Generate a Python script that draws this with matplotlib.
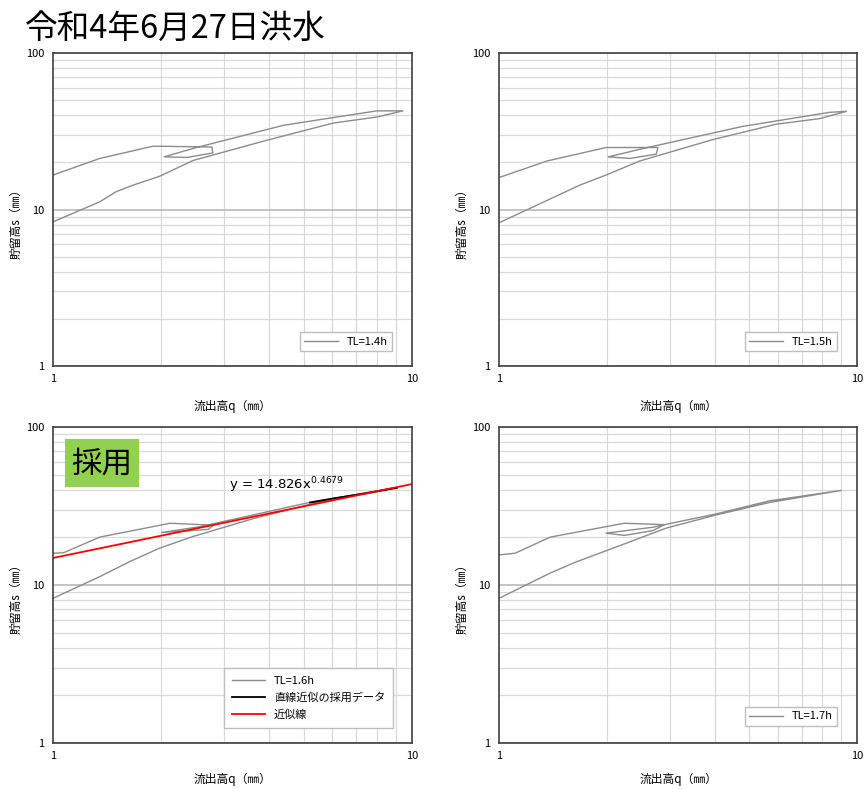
import numpy as np
import matplotlib
matplotlib.use("Agg")
import matplotlib.pyplot as plt
from matplotlib.patches import Rectangle
from matplotlib.ticker import LogLocator, FixedLocator, NullFormatter, FixedFormatter

plt.rcParams['font.family'] = ['Noto Sans CJK JP', 'DejaVu Sans']

# 流出高q と 貯留高s (ループ), TL ごと
q_14 = [1.00, 1.35, 1.90, 2.77, 2.79, 2.36, 2.04, 2.51, 4.38, 6.04, 7.99, 9.44,
        7.99, 6.04, 3.94, 2.46, 1.98, 1.67, 1.50, 1.35, 1.00]
s_14 = [16.6, 21.2, 25.4, 25.1, 23.0, 21.5, 21.7, 24.9, 34.5, 38.7, 42.7, 42.7,
        39.0, 35.7, 27.7, 20.6, 16.3, 14.3, 13.0, 11.2, 8.34]

q_15 = [1.00, 1.36, 1.99, 2.78, 2.75, 2.32, 2.02, 2.52, 4.80, 5.95, 8.39, 9.34,
        7.87, 5.95, 3.96, 2.47, 1.99, 1.68, 1.00]
s_15 = [16.0, 20.4, 24.9, 24.9, 22.6, 21.2, 21.7, 24.5, 34.0, 36.8, 41.8, 42.4,
        38.1, 35.1, 28.0, 20.4, 16.6, 14.3, 8.22]

q_16 = [1.00, 1.07, 1.35, 2.12, 2.80, 2.71, 2.36, 2.01, 2.57, 5.09, 9.08,
        6.04, 3.61, 2.46, 1.98, 1.64, 1.35, 1.00]
s_16 = [15.9, 16.0, 20.1, 24.6, 23.9, 22.5, 22.0, 21.5, 23.4, 33.0, 41.4,
        35.3, 26.3, 20.3, 17.1, 14.1, 11.3, 8.23]

q_17 = [1.00, 1.11, 1.39, 2.24, 2.90, 2.69, 1.99, 2.24, 2.69, 2.90, 4.05, 5.70, 9.04,
        5.70, 4.05, 2.93, 2.24, 1.63, 1.39, 1.00]
s_17 = [15.5, 15.9, 20.1, 24.6, 24.1, 23.2, 21.3, 20.6, 22.1, 24.1, 28.2, 34.1, 39.7,
        33.3, 27.8, 22.9, 18.2, 13.9, 11.9, 8.23]

# 直線近似の採用データ (TL=1.6h)
q_adopt = [5.20, 6.04, 7.49, 9.08]
s_adopt = [33.3, 35.3, 38.1, 41.2]

# 近似線 y = a x^b
fit_a = 14.826
fit_b = 0.4679
fit_q = np.array([1.0, 10.0])

gray = '#8c8c8c'


def setup(ax, xpad):
    ax.set_xscale('log')
    ax.set_yscale('log')
    ax.set_xlim(1, 10)
    ax.set_ylim(1, 100)
    ax.xaxis.set_major_locator(FixedLocator([1, 10]))
    ax.xaxis.set_major_formatter(FixedFormatter(['1', '10']))
    ax.yaxis.set_major_locator(FixedLocator([1, 10, 100]))
    ax.yaxis.set_major_formatter(FixedFormatter(['1', '10', '100']))
    ax.xaxis.set_minor_locator(LogLocator(base=10, subs=np.arange(2, 10)))
    ax.yaxis.set_minor_locator(LogLocator(base=10, subs=np.arange(2, 10)))
    ax.xaxis.set_minor_formatter(NullFormatter())
    ax.yaxis.set_minor_formatter(NullFormatter())
    ax.grid(which='minor', color='#d9d9d9', linewidth=0.9)
    ax.grid(which='major', axis='y', color='#bfbfbf', linewidth=1.3)
    ax.tick_params(which='both', length=0, labelsize=8, pad=6)
    for sp in ax.spines.values():
        sp.set_color('#404040')
        sp.set_linewidth(1.2)
    ax.set_axisbelow(True)
    ax.set_xlabel('流出高q（㎜）', fontsize=8.5, labelpad=xpad)
    ax.set_ylabel('貯留高s（㎜）', fontsize=8.5)
    ax.yaxis.set_label_coords(-0.086, 0.465)


fig = plt.figure(figsize=(8.64, 7.89), dpi=100)
ax1 = fig.add_axes([0.0613, 0.5361, 0.4155, 0.3967])
ax2 = fig.add_axes([0.5775, 0.5361, 0.4144, 0.3967])
ax3 = fig.add_axes([0.0613, 0.0583, 0.4155, 0.4005])
ax4 = fig.add_axes([0.5775, 0.0583, 0.4144, 0.4005])

setup(ax1, 11)
setup(ax2, 11)
setup(ax3, 8)
setup(ax4, 8)

leg_kw = dict(loc='lower right', fontsize=8, frameon=True, fancybox=False,
              edgecolor='#bfbfbf', framealpha=1, handlelength=3, borderaxespad=0)

ax1.plot(q_14, s_14, color=gray, lw=1, label='TL=1.4h')
ax1.legend(bbox_to_anchor=(0.944, 0.048), **leg_kw)

ax2.plot(q_15, s_15, color=gray, lw=1, label='TL=1.5h')
ax2.legend(bbox_to_anchor=(0.944, 0.048), **leg_kw)

ax3.plot(q_16, s_16, color=gray, lw=1, label='TL=1.6h')
ax3.plot(q_adopt, s_adopt, color='black', lw=1.3, label='直線近似の採用データ')
ax3.plot(fit_q, fit_a * fit_q ** fit_b, color='red', lw=1.3, label='近似線')
ax3.legend(bbox_to_anchor=(0.947, 0.047), labelspacing=0.6, borderpad=0.7, **leg_kw)
ax3.text(0.49, 0.804, 'y = 14.826x$^{0.4679}$', transform=ax3.transAxes,
         fontsize=9.5, family='DejaVu Sans')
ax3.add_patch(Rectangle((0.033, 0.81), 0.207, 0.152, transform=ax3.transAxes,
                        facecolor='#92d050', edgecolor='none', zorder=3))
ax3.text(0.136, 0.882, '採用', transform=ax3.transAxes, fontsize=22,
         va='center', ha='center', zorder=4)

ax4.plot(q_17, s_17, color=gray, lw=1, label='TL=1.7h')
ax4.legend(bbox_to_anchor=(0.944, 0.054), **leg_kw)

fig.text(0.029, 0.963, '令和4年6月27日洪水', fontsize=23.5, va='center', ha='left')

fig.savefig('out.png', dpi=100)
